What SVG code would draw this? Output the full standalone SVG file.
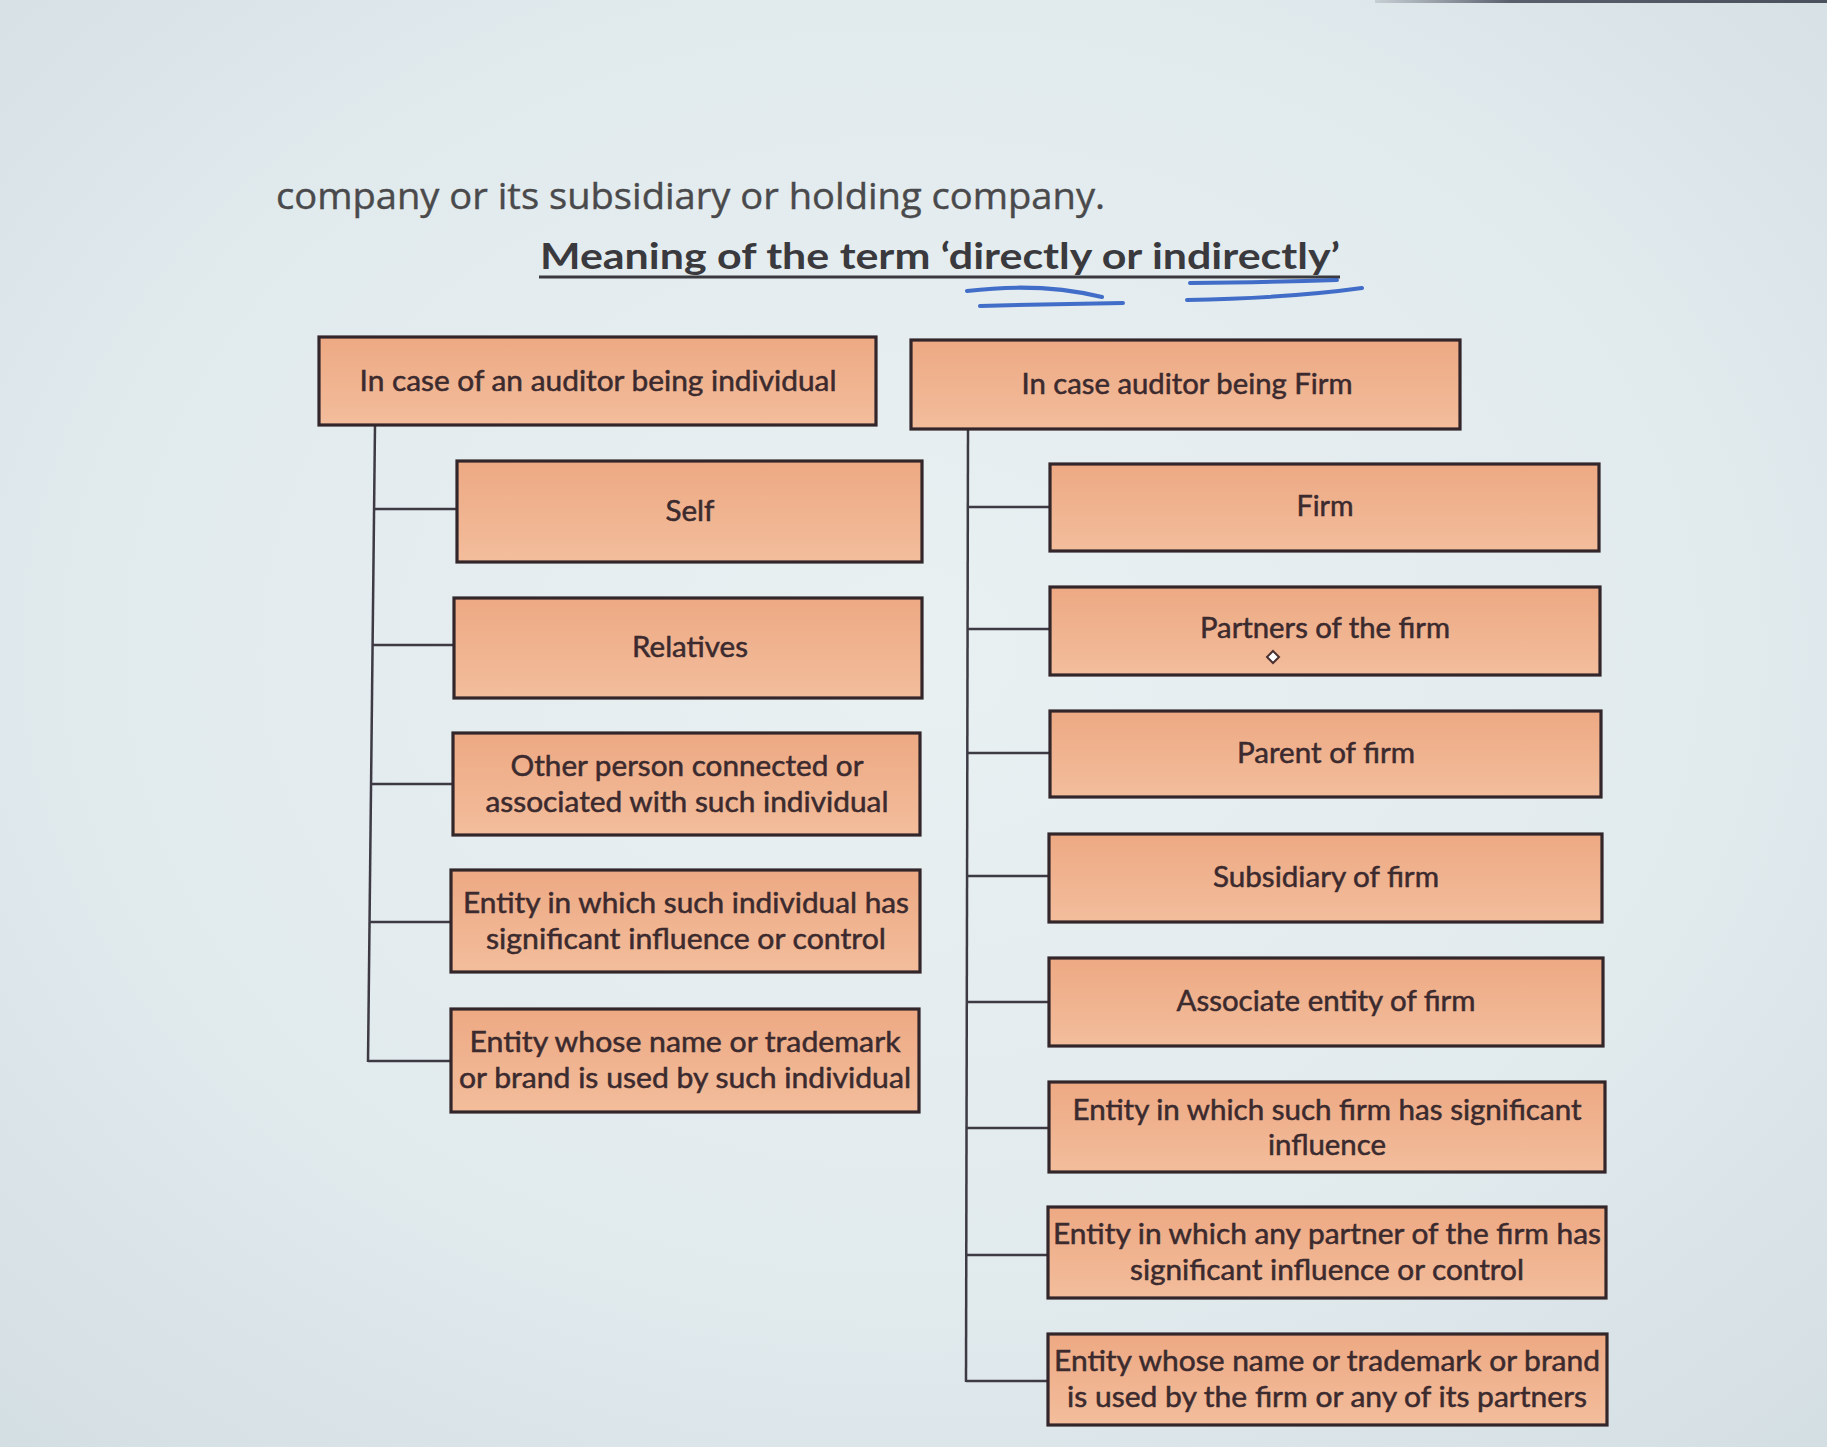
<svg xmlns="http://www.w3.org/2000/svg" width="1827" height="1447" viewBox="0 0 1827 1447">
<defs>
<radialGradient id="bg" cx="0.5" cy="0.45" r="0.75">
<stop offset="0" stop-color="#e9f0f2"/>
<stop offset="0.6" stop-color="#e1eaed"/>
<stop offset="1" stop-color="#d3dee3"/>
</radialGradient>
<linearGradient id="box" x1="0" y1="0" x2="0" y2="1">
<stop offset="0" stop-color="#eda983"/>
<stop offset="1" stop-color="#f3bd9c"/>
</linearGradient>
<linearGradient id="topline" x1="0" y1="0" x2="1" y2="0">
<stop offset="0" stop-color="#6a6f7a" stop-opacity="0.2"/>
<stop offset="0.3" stop-color="#5a5f6c"/>
<stop offset="1" stop-color="#4a505c"/>
</linearGradient>
<style>
.node rect{fill:url(#box);stroke:#33262a;stroke-width:3.2}
.node text{font-family:Lato,"Open Sans","Liberation Sans",sans-serif;font-size:28px;fill:#3b2a2e;stroke:#3b2a2e;stroke-width:0.5;text-anchor:middle}
.conn line{stroke:#3d3a44;stroke-width:2.5;fill:none}
.ink{stroke:#2f5fc4;stroke-width:4;fill:none;stroke-linecap:round;opacity:0.9}
</style>
</defs>
<rect x="0" y="0" width="1827" height="1447" fill="url(#bg)"/>
<rect x="1375" y="0" width="452" height="3" fill="url(#topline)"/>

<text x="276" y="209" font-family="'Open Sans','Liberation Sans',sans-serif" font-size="36" fill="#4a4a4c" stroke="#4a4a4c" stroke-width="0.4" textLength="829" lengthAdjust="spacingAndGlyphs">company or its subsidiary or holding company.</text>
<text x="540" y="269" font-family="Lato,'Open Sans','Liberation Sans',sans-serif" font-size="36" font-weight="bold" fill="#3a3a3e" textLength="800" lengthAdjust="spacingAndGlyphs">Meaning of the term ‘directly or indirectly’</text>
<line x1="539" y1="277" x2="1340" y2="277" stroke="#3a3a3e" stroke-width="3"/>
<g id="ink-marks">
<path class="ink" d="M967,291 Q1040,282 1102,297"/>
<path class="ink" d="M980,306 Q1050,304 1123,303"/>
<path class="ink" d="M1190,283 Q1270,282 1337,280"/>
<path class="ink" d="M1187,300 Q1290,298 1362,288"/>
</g>

<g id="connectors" class="conn">
<line x1="375" y1="425" x2="368" y2="1062"/>
<line x1="374" y1="509" x2="457" y2="509"/>
<line x1="373" y1="645" x2="454" y2="645"/>
<line x1="371" y1="784" x2="453" y2="784"/>
<line x1="370" y1="922" x2="451" y2="922"/>
<line x1="368" y1="1061" x2="451" y2="1061"/>
<line x1="968" y1="429" x2="966" y2="1382"/>
<line x1="968" y1="507" x2="1050" y2="507"/>
<line x1="968" y1="629" x2="1050" y2="629"/>
<line x1="967" y1="753" x2="1050" y2="753"/>
<line x1="967" y1="876" x2="1049" y2="876"/>
<line x1="967" y1="1002" x2="1049" y2="1002"/>
<line x1="967" y1="1128" x2="1049" y2="1128"/>
<line x1="966" y1="1255" x2="1048" y2="1255"/>
<line x1="966" y1="1381" x2="1048" y2="1381"/>
</g>

<g id="n-individual" class="node">
<rect x="319" y="337" width="557" height="88"/>
<text x="598" y="391" textLength="477" lengthAdjust="spacingAndGlyphs">In case of an auditor being individual</text>
</g>
<g id="n-firm-root" class="node">
<rect x="911" y="340" width="549" height="89"/>
<text x="1187" y="394" textLength="331" lengthAdjust="spacingAndGlyphs">In case auditor being Firm</text>
</g>

<g id="n-self" class="node">
<rect x="457" y="461" width="465" height="101"/>
<text x="690" y="521" textLength="49" lengthAdjust="spacingAndGlyphs">Self</text>
</g>
<g id="n-relatives" class="node">
<rect x="454" y="598" width="468" height="100"/>
<text x="690" y="657" textLength="116" lengthAdjust="spacingAndGlyphs">Relatives</text>
</g>
<g id="n-other" class="node">
<rect x="453" y="733" width="467" height="102"/>
<text x="687" y="776" textLength="353" lengthAdjust="spacingAndGlyphs">Other person connected or</text>
<text x="687" y="812" textLength="403" lengthAdjust="spacingAndGlyphs">associated with such individual</text>
</g>
<g id="n-entity-influence" class="node">
<rect x="451" y="870" width="469" height="102"/>
<text x="686" y="913" textLength="446" lengthAdjust="spacingAndGlyphs">Entity in which such individual has</text>
<text x="686" y="949" textLength="400" lengthAdjust="spacingAndGlyphs">significant influence or control</text>
</g>
<g id="n-entity-name" class="node">
<rect x="451" y="1009" width="468" height="103"/>
<text x="685" y="1052" textLength="431" lengthAdjust="spacingAndGlyphs">Entity whose name or trademark</text>
<text x="685" y="1088" textLength="452" lengthAdjust="spacingAndGlyphs">or brand is used by such individual</text>
</g>

<g id="n-firm" class="node">
<rect x="1050" y="464" width="549" height="87"/>
<text x="1325" y="516" textLength="57" lengthAdjust="spacingAndGlyphs">Firm</text>
</g>
<g id="n-partners" class="node">
<rect x="1050" y="587" width="550" height="88"/>
<text x="1325" y="638" textLength="250" lengthAdjust="spacingAndGlyphs">Partners of the firm</text>
<path d="M1273,651 L1279,657 L1273,663 L1267,657 Z" fill="#ffffff" stroke="#4a3030" stroke-width="2"/>
</g>
<g id="n-parent" class="node">
<rect x="1050" y="711" width="551" height="86"/>
<text x="1326" y="763" textLength="178" lengthAdjust="spacingAndGlyphs">Parent of firm</text>
</g>
<g id="n-subsidiary" class="node">
<rect x="1049" y="834" width="553" height="88"/>
<text x="1326" y="887" textLength="226" lengthAdjust="spacingAndGlyphs">Subsidiary of firm</text>
</g>
<g id="n-associate" class="node">
<rect x="1049" y="958" width="554" height="88"/>
<text x="1326" y="1011" textLength="299" lengthAdjust="spacingAndGlyphs">Associate entity of firm</text>
</g>
<g id="n-firm-influence" class="node">
<rect x="1049" y="1082" width="556" height="90"/>
<text x="1327" y="1120" textLength="509" lengthAdjust="spacingAndGlyphs">Entity in which such firm has significant</text>
<text x="1327" y="1155" textLength="118" lengthAdjust="spacingAndGlyphs">influence</text>
</g>
<g id="n-partner-influence" class="node">
<rect x="1048" y="1207" width="558" height="91"/>
<text x="1327" y="1244" textLength="548" lengthAdjust="spacingAndGlyphs">Entity in which any partner of the firm has</text>
<text x="1327" y="1280" textLength="394" lengthAdjust="spacingAndGlyphs">significant influence or control</text>
</g>
<g id="n-firm-name" class="node">
<rect x="1048" y="1334" width="559" height="91"/>
<text x="1327" y="1371" textLength="546" lengthAdjust="spacingAndGlyphs">Entity whose name or trademark or brand</text>
<text x="1327" y="1407" textLength="520" lengthAdjust="spacingAndGlyphs">is used by the firm or any of its partners</text>
</g>
</svg>
